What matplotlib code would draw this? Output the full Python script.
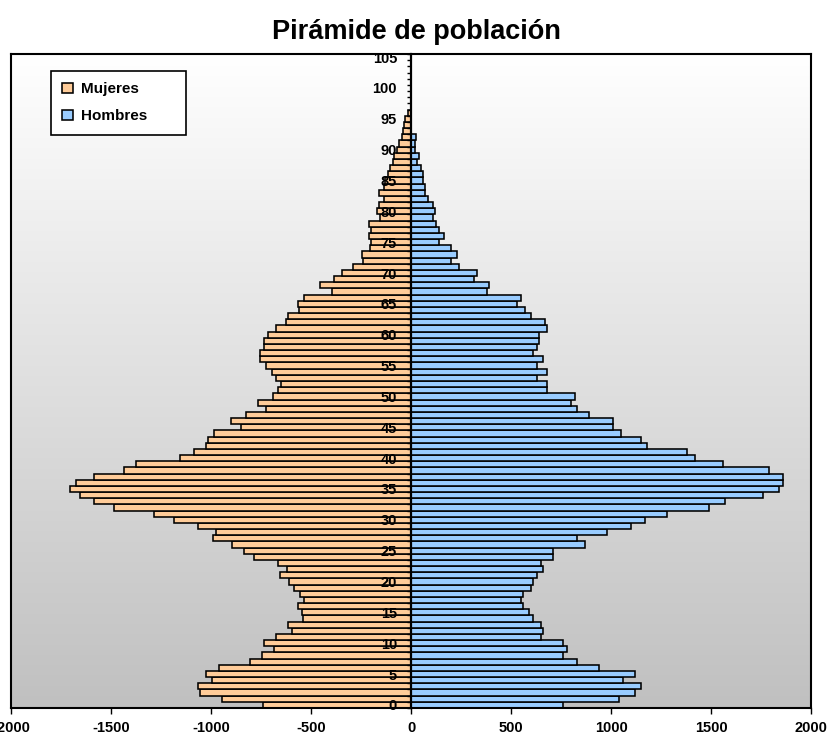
import numpy as np
import matplotlib
matplotlib.use("Agg")
import matplotlib.pyplot as plt
from matplotlib.colors import LinearSegmentedColormap

plt.rcParams['font.family'] = ['Liberation Sans', 'DejaVu Sans']
plt.rcParams['font.weight'] = 'bold'

title = "Pirámide de población"
series_names = ["Mujeres", "Hombres"]
ages = list(range(0, 106))

mujeres = [-738, -945, -1055, -1067, -997, -1025, -958, -807, -747, -685,
           -735, -677, -597, -615, -538, -547, -567, -537, -557, -587,
           -608, -655, -620, -665, -785, -835, -895, -988, -976, -1067,
           -1185, -1285, -1483, -1586, -1656, -1706, -1675, -1586, -1433, -1376,
           -1153, -1084, -1027, -1016, -985, -848, -898, -826, -725, -767,
           -689, -666, -648, -675, -696, -726, -755, -755, -737, -737,
           -716, -675, -626, -617, -560, -567, -537, -397, -457, -387,
           -347, -288, -238, -247, -207, -200, -208, -199, -208, -155,
           -170, -158, -137, -158, -135, -130, -115, -104, -91, -87,
           -72, -60, -47, -40, -36, -28, -16, 0, 0, 0,
           0, 0, 0, 0, 0, 0]

hombres = [762, 1038, 1118, 1151, 1062, 1120, 940, 830, 760, 780,
           762, 650, 662, 650, 610, 592, 558, 550, 558, 598,
           608, 630, 660, 652, 710, 710, 872, 829, 982, 1100,
           1171, 1279, 1489, 1568, 1760, 1838, 1860, 1860, 1788, 1561,
           1422, 1382, 1178, 1152, 1049, 1009, 1009, 891, 829, 799,
           820, 679, 679, 630, 679, 629, 659, 609, 629, 638,
           638, 679, 670, 601, 570, 532, 552, 382, 390, 313,
           332, 242, 200, 232, 200, 142, 163, 140, 124, 111,
           122, 112, 84, 72, 71, 62, 60, 49, 30, 40,
           20, 20, 24, 0, 0, 0, 0, 0, 0, 0,
           0, 0, 0, 0, 0, 0]

x_ticks = [-2000, -1500, -1000, -500, 0, 500, 1000, 1500, 2000]
y_ticks = list(range(0, 106, 5))

W, H = 830, 738
fig = plt.figure(figsize=(W / 100, H / 100), dpi=100)
ax = fig.add_axes([11 / W, 30 / H, 800 / W, 654 / H])
ax.set_axisbelow(False)

# gradient background
cmap = LinearSegmentedColormap.from_list("bg", ["#c0c0c0", "#ffffff"])
grad = np.linspace(0, 1, 256).reshape(-1, 1)
ax.imshow(grad, cmap=cmap, origin='lower', aspect='auto',
          extent=[-2000, 2000, -0.5, 105.5], zorder=0)

ax.barh(ages, mujeres, height=1.0, color='#FFCC99', edgecolor='black',
        linewidth=1.15, label=series_names[0], zorder=1.5)
ax.barh(ages, hombres, height=1.0, color='#99CCFF', edgecolor='black',
        linewidth=1.15, label=series_names[1], zorder=1.5)

ax.set_xlim(-2000, 2000)
ax.set_ylim(-0.5, 105.5)

# frame
for s in ['top', 'right', 'bottom']:
    ax.spines[s].set_linewidth(1.5)
    ax.spines[s].set_color('black')
ax.plot([0, 0], [0, 1], transform=ax.transAxes, color='black', lw=1.5,
        clip_on=False, zorder=5)
ax.spines['left'].set_position(('data', 0))
ax.spines['left'].set_linewidth(1.6)

ax.set_yticks(y_ticks)
ax.set_yticklabels([str(v) for v in y_ticks], fontsize=10.5, fontweight='bold')
ax.set_yticks(np.arange(-0.5, 106, 1), minor=True)
ax.tick_params(axis='y', which='major', length=0, pad=10)
ax.tick_params(axis='y', which='minor', length=3, width=1, direction='out')

ax.set_xticks(x_ticks)
ax.set_xticklabels([str(v) for v in x_ticks], fontsize=10.5, fontweight='bold')
ax.tick_params(axis='x', which='major', length=4, width=1, direction='out', pad=5)

fig.text(0.502, 1 - 32 / H, title, ha='center', va='center',
         fontsize=19.5, fontweight='bold')

leg = ax.legend(loc='upper left',
                bbox_to_anchor=(51 / W, 1 - 131 / H, 135 / W, 60 / H),
                bbox_transform=fig.transFigure, mode='expand',
                borderaxespad=0.0,
                fancybox=False, edgecolor='black', framealpha=1,
                facecolor='white', handlelength=0.7, handleheight=0.7,
                handletextpad=0.5, borderpad=0.75, labelspacing=0.85,
                prop={'size': 11, 'weight': 'bold'})
leg.get_frame().set_linewidth(1.2)
leg.set_zorder(10)

fig.savefig("out.png", dpi=100)
